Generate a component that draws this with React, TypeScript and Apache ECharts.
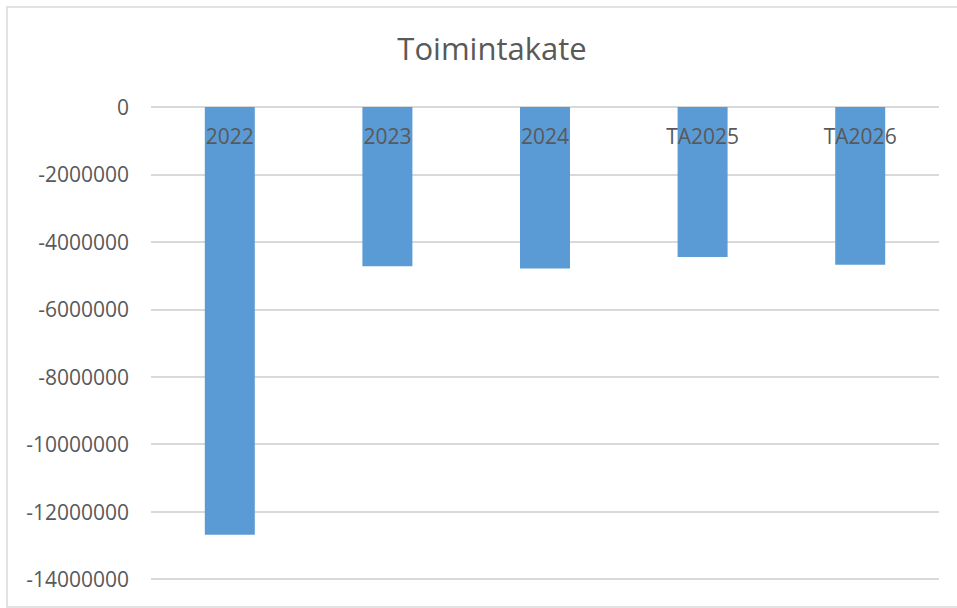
import React, { useEffect, useRef } from "react";
import * as echarts from "echarts";

const title = "Toimintakate";
const categories = ["2022", "2023", "2024", "TA2025", "TA2026"];
const values = [-12690000, -4720000, -4790000, -4450000, -4680000];
const yMin = -14000000;
const yMax = 0;
const yInterval = 2000000;

export default function App() {
  const ref = useRef<HTMLDivElement>(null);
  useEffect(() => {
    if (!ref.current) return;
    const chart = echarts.init(ref.current, undefined, { renderer: "svg" });
    const font = "'Open Sans', 'Liberation Sans', sans-serif";
    chart.setOption({
      animation: false,
      backgroundColor: "#ffffff",
      title: {
        text: title,
        left: 487,
        textAlign: "center",
        top: 27,
        textStyle: { fontFamily: font, fontSize: 31, fontWeight: "normal", color: "#595959" },
      },
      graphic: [
        {
          type: "rect",
          shape: { x: 7, y: 7, width: 960, height: 600 },
          style: { fill: "none", stroke: "#d9d9d9", lineWidth: 1.5 },
          silent: true,
        },
      ],
      grid: { left: 151, right: 18, top: 107, bottom: 29, containLabel: false, outerBoundsMode: "none" },
      xAxis: {
        type: "category",
        data: categories,
        position: "top",
        z: 10,
        axisLine: { show: false, onZero: false },
        axisTick: { show: false },
        axisLabel: { inside: true, margin: 18, fontFamily: font, fontSize: 21, color: "#595959" },
      },
      yAxis: {
        type: "value",
        min: yMin,
        max: yMax,
        interval: yInterval,
        axisLine: { show: false },
        axisTick: { show: false },
        axisLabel: {
          margin: 22,
          fontFamily: font,
          fontSize: 21,
          color: "#595959",
          formatter: (v: number) => String(v),
        },
        splitLine: { lineStyle: { color: "#d9d9d9", width: 2 } },
      },
      series: [
        {
          type: "bar",
          data: values,
          barWidth: 50,
          itemStyle: { color: "#5b9bd5" },
        },
      ],
    });
    return () => chart.dispose();
  }, []);
  return (
    <div
      ref={ref}
      style={{ position: "fixed", left: 0, top: 0, width: 957, height: 608 }}
    />
  );
}
